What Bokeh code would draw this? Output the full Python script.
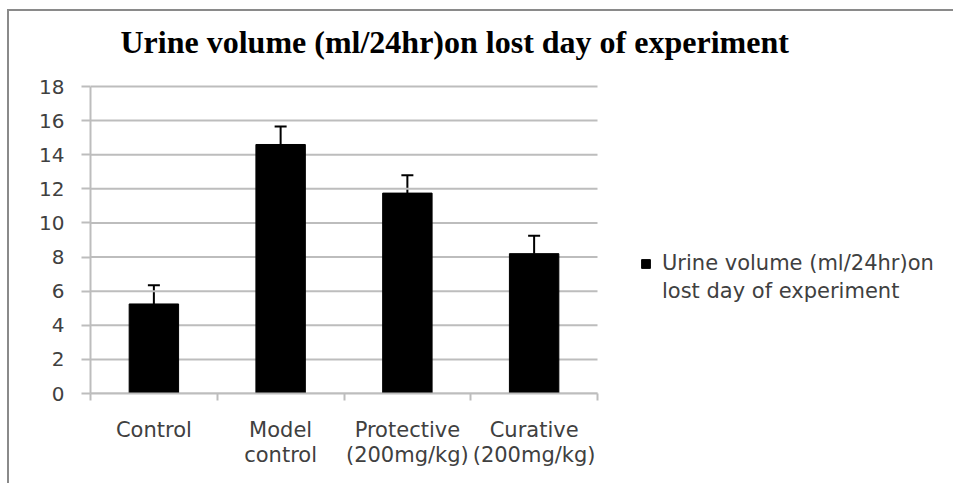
import numpy as np
from bokeh.plotting import figure
from bokeh.models import (ColumnDataSource, Range1d, FixedTicker, Whisker,
                          TeeHead, Legend, LegendItem, Label)
from bokeh.embed import file_html
from bokeh.resources import INLINE

title_text = "Urine volume (ml/24hr)on lost day of experiment"
series_lines = ["Urine volume (ml/24hr)on", "lost day of experiment"]
categories = ["Control", "Model\ncontrol", "Protective\n(200mg/kg)", "Curative\n(200mg/kg)"]
values = [5.25, 14.6, 11.75, 8.2]
errors = [1.1, 1.05, 1.05, 1.05]
y_ticks = [0, 2, 4, 6, 8, 10, 12, 14, 16, 18]

n = len(categories)
centers = [i + 0.5 for i in range(n)]
bounds = list(range(n + 1))
upper = [v + e for v, e in zip(values, errors)]
src = ColumnDataSource(dict(x=centers, top=values, upper=upper))

TICK_FONT = "DejaVu Sans"
GRAY = "#bdbdbd"

# layout (px)
W, H = 946, 474
LEFT, BOTTOM = 81, 92
PLOT_W, PLOT_H = 507, 307          # size of the category / value area
FRAME_W, FRAME_H = W - LEFT, H - BOTTOM
x_end = n * FRAME_W / PLOT_W
y_end = y_ticks[-1] * FRAME_H / PLOT_H

p = figure(width=W, height=H, x_range=Range1d(0, x_end), y_range=Range1d(0, y_end),
           output_backend="svg", toolbar_location=None,
           min_border_left=LEFT, min_border_right=0, min_border_top=0, min_border_bottom=BOTTOM)
p.styles = {"border-left": "2px solid #8a8a8a", "border-top": "2px solid #8a8a8a",
            "margin-left": "7px", "margin-top": "9px"}
p.outline_line_color = None

# chart title
p.add_layout(Label(x=30, y=352, x_units="screen", y_units="screen", text=title_text,
                   text_font="Liberation Serif", text_font_size="32px", text_font_style="bold",
                   text_color="black", text_baseline="alphabetic"))

# horizontal gridlines limited to the category area
p.segment(x0=0, x1=n, y0=y_ticks, y1=y_ticks, line_color=GRAY, line_width=2)

r = p.vbar(x="x", top="top", width=0.39, bottom=0, source=src,
           fill_color="black", line_color="black")

w = Whisker(base="x", lower="top", upper="upper", source=src, line_color="black", line_width=2,
            upper_head=TeeHead(size=12, line_width=2, line_color="black"), lower_head=None)
p.add_layout(w)

blank = p.rect(x=[], y=[], width=0, height=0, fill_alpha=0, line_alpha=0)

xa = p.xaxis[0]
xa.bounds = (0, n)
xa.ticker = FixedTicker(ticks=centers, minor_ticks=bounds)
xa.major_label_overrides = {c: lab for c, lab in zip(centers, categories)}
xa.major_tick_out = 0
xa.major_tick_in = 0
xa.minor_tick_out = 7
xa.minor_tick_in = 0
xa.minor_tick_line_color = GRAY
xa.minor_tick_line_width = 2
xa.axis_line_color = GRAY
xa.axis_line_width = 2
xa.major_label_standoff = 17
xa.major_label_text_font = TICK_FONT
xa.major_label_text_font_size = "21px"
xa.major_label_text_color = "#404040"
xa.major_label_text_line_height = 1.07

ya = p.yaxis[0]
ya.bounds = (0, y_ticks[-1])
ya.ticker = FixedTicker(ticks=y_ticks)
ya.major_tick_out = 9
ya.major_tick_in = 0
ya.minor_tick_line_color = None
ya.major_tick_line_color = GRAY
ya.major_tick_line_width = 2
ya.axis_line_color = GRAY
ya.axis_line_width = 2
ya.major_label_standoff = 17
ya.major_label_text_font = TICK_FONT
ya.major_label_text_font_size = "20px"
ya.major_label_text_color = "#404040"

p.xgrid.visible = False
p.ygrid.visible = False

legend = Legend(items=[LegendItem(label=series_lines[0], renderers=[r]),
                       LegendItem(label=series_lines[1], renderers=[blank])],
                location=(550, 88),
                border_line_color=None, background_fill_alpha=0, glyph_width=11, glyph_height=11,
                label_text_font=TICK_FONT, label_text_font_size="21px", label_text_color="#404040",
                label_height=28, spacing=0, padding=0, margin=0, label_standoff=11)
p.add_layout(legend)

open("out.html", "w").write(file_html(p, INLINE))
